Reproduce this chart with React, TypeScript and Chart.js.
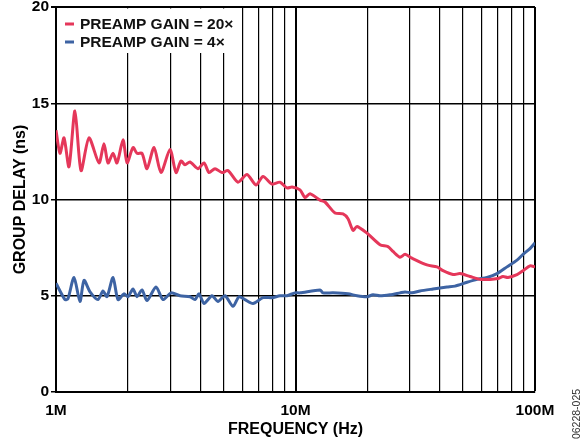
import React, { useEffect, useRef } from 'react';
import { Chart, registerables } from 'chart.js';

Chart.register(...registerables);

const FONT = '"Liberation Sans", Arial, Helvetica, sans-serif';

// Frequency grid (MHz) and labels
const gridMHz = [1, 2, 3, 4, 5, 6, 7, 8, 9, 10, 20, 30, 40, 50, 60, 70, 80, 90, 100];
const tickLabelsMHz: Record<number, string> = { 1: '1M', 10: '10M', 100: '100M' };

// PREAMP GAIN = 20x
const redFreqMHz = [
  1.0, 1.039, 1.08, 1.133, 1.2, 1.272, 1.373, 1.512, 1.586, 1.649,
  1.73, 1.798, 1.905, 1.98, 2.097, 2.179, 2.286, 2.399, 2.566, 2.744,
  2.992, 3.17, 3.326, 3.457, 3.627, 3.916, 4.15, 4.354, 4.612, 4.933,
  5.226, 5.754, 6.274, 6.842, 7.317, 7.98, 8.616, 9.216, 9.67, 10.44,
  10.96, 11.49, 12.66, 13.28, 14.62, 15.79, 16.57, 17.39, 18.06, 19.89,
  22.53, 24.33, 25.53, 27.31, 28.66, 30.65, 35.4, 38.98, 41.3, 45.47,
  48.63, 53.54, 58.94, 64.89, 70.05, 73.5, 77.13, 84.11, 89.13, 95.31,
  100,
];
const redDelay = [
  13.6, 12.4, 13.2, 11.7, 14.6, 11.5, 13.2, 11.9, 12.9, 11.9,
  12.4, 11.9, 13.1, 11.9, 12.7, 12.4, 12.4, 11.6, 12.7, 11.4,
  12.6, 11.4, 12.0, 11.8, 11.95, 11.6, 11.9, 11.4, 11.6, 11.4,
  11.5, 10.9, 11.3, 10.75, 11.2, 10.8, 10.9, 10.6, 10.65, 10.5,
  10.1, 10.3, 9.97, 9.87, 9.3, 9.25, 9.0, 8.4, 8.6, 8.25,
  7.65, 7.55, 7.3, 7.0, 7.15, 6.95, 6.6, 6.5, 6.3, 6.1,
  6.15, 6.0, 5.85, 5.85, 5.9, 6.0, 5.95, 6.1, 6.3, 6.55,
  6.5,
];

// PREAMP GAIN = 4x
const blueFreqMHz = [
  1.0, 1.09, 1.122, 1.189, 1.259, 1.309, 1.387, 1.497, 1.571, 1.633,
  1.73, 1.815, 1.922, 1.998, 2.097, 2.179, 2.286, 2.399, 2.616, 2.798,
  3.021, 3.294, 3.627, 3.805, 3.955, 4.15, 4.481, 4.748, 5.077, 5.483,
  5.808, 6.153, 6.645, 7.317, 7.98, 8.616, 9.216, 9.95, 10.44, 12.66,
  13.02, 14.34, 16.57, 18.06, 19.89, 21.07, 22.53, 24.81, 27.31, 28.66,
  30.65, 33.1, 37.52, 42.92, 46.34, 52.02, 57.27, 63.05, 69.39, 76.39,
  84.11, 89.13, 95.31, 100,
];
const blueDelay = [
  5.65, 4.8, 4.85, 5.95, 4.7, 5.8, 5.2, 4.8, 5.25, 4.95,
  5.95, 4.8, 5.1, 4.95, 5.35, 4.95, 5.3, 4.75, 5.45, 4.8,
  5.15, 5.0, 4.95, 4.8, 5.1, 4.6, 5.0, 4.7, 5.0, 4.45,
  4.95, 4.8, 4.6, 4.9, 4.9, 5.0, 5.0, 5.15, 5.15, 5.3,
  5.15, 5.15, 5.1, 5.0, 4.95, 5.05, 5.0, 5.05, 5.15, 5.2,
  5.15, 5.25, 5.35, 5.45, 5.5, 5.7, 5.85, 5.95, 6.15, 6.5,
  6.85, 7.15, 7.45, 7.75,
];

const seriesLabels = ['PREAMP GAIN = 20×', 'PREAMP GAIN = 4×'];
const seriesColors = ['#E5375A', '#3D63A3'];
const figureId = '06228-025';

const toPoints = (f: number[], v: number[]) => f.map((m, i) => ({ x: m * 1e6, y: v[i] }));

const boxLegendPlugin = {
  id: 'boxLegend',
  beforeDatasetsDraw(chart: any) {
    const { ctx, chartArea } = chart;
    ctx.save();
    ctx.fillStyle = '#ffffff';
    ctx.fillRect(chartArea.left + 1.5, chartArea.top + 1.5, 181, 44.5);
    ctx.font = `bold 15.5px ${FONT}`;
    ctx.textBaseline = 'middle';
    ctx.textAlign = 'left';
    chart.data.datasets.forEach((ds: any, i: number) => {
      const y = chartArea.top + 17 + i * 18;
      ctx.fillStyle = ds.borderColor;
      ctx.fillRect(chartArea.left + 9, y - 1.5, 9, 3);
      ctx.fillStyle = '#111111';
      ctx.fillText(ds.label, chartArea.left + 24, y + 1);
    });
    ctx.restore();
  },
  afterDraw(chart: any) {
    const { ctx } = chart;
    ctx.save();
    ctx.translate(577, 414);
    ctx.rotate(-Math.PI / 2);
    ctx.font = `10.5px ${FONT}`;
    ctx.fillStyle = '#333333';
    ctx.textAlign = 'center';
    ctx.textBaseline = 'middle';
    ctx.fillText(figureId, 0, 0);
    ctx.restore();
  },
};

export default function App() {
  const ref = useRef<HTMLCanvasElement>(null);
  useEffect(() => {
    const chart = new Chart(ref.current as HTMLCanvasElement, {
      type: 'line',
      data: {
        datasets: [
          {
            label: seriesLabels[0],
            data: toPoints(redFreqMHz, redDelay),
            borderColor: seriesColors[0],
            backgroundColor: seriesColors[0],
            borderWidth: 3,
            pointRadius: 0,
            tension: 0.25,
          },
          {
            label: seriesLabels[1],
            data: toPoints(blueFreqMHz, blueDelay),
            borderColor: seriesColors[1],
            backgroundColor: seriesColors[1],
            borderWidth: 3,
            pointRadius: 0,
            tension: 0.25,
          },
        ],
      },
      options: {
        responsive: false,
        animation: false,
        layout: { padding: { top: 7, right: 51, bottom: 0, left: 0 } },
        plugins: {
          legend: { display: false },
          tooltip: { enabled: false },
        },
        scales: {
          x: {
            type: 'logarithmic',
            min: 1e6,
            max: 1e8,
            afterBuildTicks: (scale: any) => {
              scale.ticks = gridMHz.map((m) => ({ value: m * 1e6, major: m in tickLabelsMHz }));
            },
            afterFit: (scale: any) => {
              scale.height = 53;
              scale.paddingLeft = 0;
              scale.paddingRight = 0;
            },
            ticks: {
              autoSkip: false,
              maxRotation: 0,
              minRotation: 0,
              padding: 9,
              color: '#000',
              font: { family: FONT, size: 15.5, weight: 'bold' },
              callback: (value: any) => {
                const m = Math.round(Number(value) / 1e6);
                return tickLabelsMHz[m] ?? '';
              },
            },
            grid: {
              drawTicks: false,
              color: '#000',
              lineWidth: (c: any) => {
                const m = Math.round(c.tick.value / 1e6);
                return m === 10 || m === 100 ? 2 : 1.2;
              },
            },
            border: { display: true, color: '#000', width: 2 },
            title: {
              display: true,
              text: 'FREQUENCY (Hz)',
              color: '#000',
              font: { family: FONT, size: 16, weight: 'bold' },
              padding: { top: 0, bottom: 6 },
            },
          },
          y: {
            min: 0,
            max: 20,
            afterFit: (scale: any) => {
              scale.width = 56;
              scale.paddingTop = 0;
              scale.paddingBottom = 0;
            },
            ticks: {
              stepSize: 5,
              padding: 2,
              color: '#000',
              font: { family: FONT, size: 15.5, weight: 'bold' },
            },
            grid: {
              color: '#000',
              tickLength: 5,
              lineWidth: (c: any) => (c.tick && c.tick.value === 20 ? 2 : 1.5),
            },
            border: { display: true, color: '#000', width: 2 },
            title: {
              display: true,
              text: 'GROUP DELAY (ns)',
              color: '#000',
              font: { family: FONT, size: 16, weight: 'bold' },
              padding: { top: 11, bottom: 0 },
            },
          },
        },
      },
      plugins: [boxLegendPlugin],
    } as any);
    return () => chart.destroy();
  }, []);
  return (
    <div style={{ position: 'absolute', left: 0, top: 0, width: 586, height: 445, background: '#fff' }}>
      <canvas ref={ref} width={586} height={445} style={{ display: 'block' }} />
    </div>
  );
}
